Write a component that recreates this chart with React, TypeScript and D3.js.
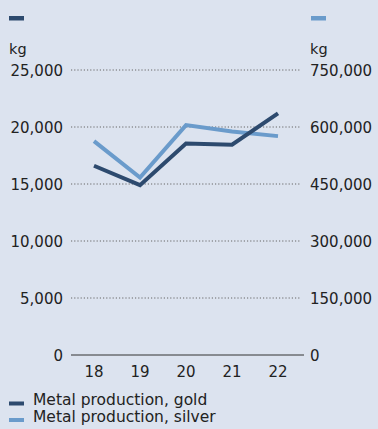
import React from "react";
import * as d3 from "d3";

const years = ["18", "19", "20", "21", "22"];
const gold = [16600, 14900, 18550, 18450, 21200];
const silver = [563000, 467000, 605000, 588000, 576000];
const leftTicks = [0, 5000, 10000, 15000, 20000, 25000];
const rightTicks = [0, 150000, 300000, 450000, 600000, 750000];
const seriesNames = ["Metal production, gold", "Metal production, silver"];
const unit = "kg";

const W = 378;
const H = 429;
const DARK = "#2d4a6e";
const LIGHT = "#6a9bcb";
const BG = "#dce3ef";
const TXT = "#222";
const FONT = "'DejaVu Sans', sans-serif";

export default function App() {
  const x = d3.scaleBand<string>().domain(years).range([71, 301]);
  const yL = d3.scaleLinear().domain([0, 25000]).range([355, 70]);
  const yR = d3.scaleLinear().domain([0, 750000]).range([355, 70]);
  const fmt = d3.format(",");
  const cx = (d: string) => (x(d) as number) + x.bandwidth() / 2;
  const lineG = d3.line<number>().x((_, i) => cx(years[i])).y((v) => yL(v));
  const lineS = d3.line<number>().x((_, i) => cx(years[i])).y((v) => yR(v));

  return (
    <svg
      width={W}
      height={H}
      style={{ position: "absolute", left: 0, top: 0, background: BG }}
      fontFamily={FONT}
    >
      <rect x={0} y={0} width={W} height={H} fill={BG} />
      {/* top legend markers */}
      <rect x={9} y={16} width={15} height={4.5} fill={DARK} />
      <rect x={311} y={16} width={15} height={4.5} fill={LIGHT} />
      <text x={9} y={54} fontSize={14.5} fill={TXT}>{unit}</text>
      <text x={310} y={54} fontSize={14.5} fill={TXT}>{unit}</text>

      {leftTicks.map((t, i) => (
        <g key={t}>
          {t !== 0 && (
            <line
              x1={71}
              x2={300}
              y1={yL(t)}
              y2={yL(t)}
              stroke="#666"
              strokeWidth={1}
              strokeDasharray="1.2,2"
            />
          )}
          <text x={63} y={yL(t) + 6} fontSize={15} textAnchor="end" fill={TXT}>
            {fmt(t)}
          </text>
          <text x={310} y={yR(rightTicks[i]) + 6} fontSize={15} fill={TXT}>
            {fmt(rightTicks[i])}
          </text>
        </g>
      ))}
      <line x1={71} x2={304} y1={yL(0)} y2={yL(0)} stroke="#333" strokeWidth={1} />

      {years.map((yv) => (
        <text key={yv} x={cx(yv)} y={377} fontSize={15} textAnchor="middle" fill={TXT}>
          {yv}
        </text>
      ))}

      <path d={lineS(silver) || ""} fill="none" stroke={LIGHT} strokeWidth={4} strokeLinejoin="miter" />
      <path d={lineG(gold) || ""} fill="none" stroke={DARK} strokeWidth={4} strokeLinejoin="miter" />

      {/* bottom legend */}
      <rect x={9} y={401.5} width={15} height={4} fill={DARK} />
      <text x={33} y={405} fontSize={15.5} fill={TXT}>{seriesNames[0]}</text>
      <rect x={9} y={418} width={15} height={4} fill={LIGHT} />
      <text x={33} y={422} fontSize={15.5} fill={TXT}>{seriesNames[1]}</text>
    </svg>
  );
}
